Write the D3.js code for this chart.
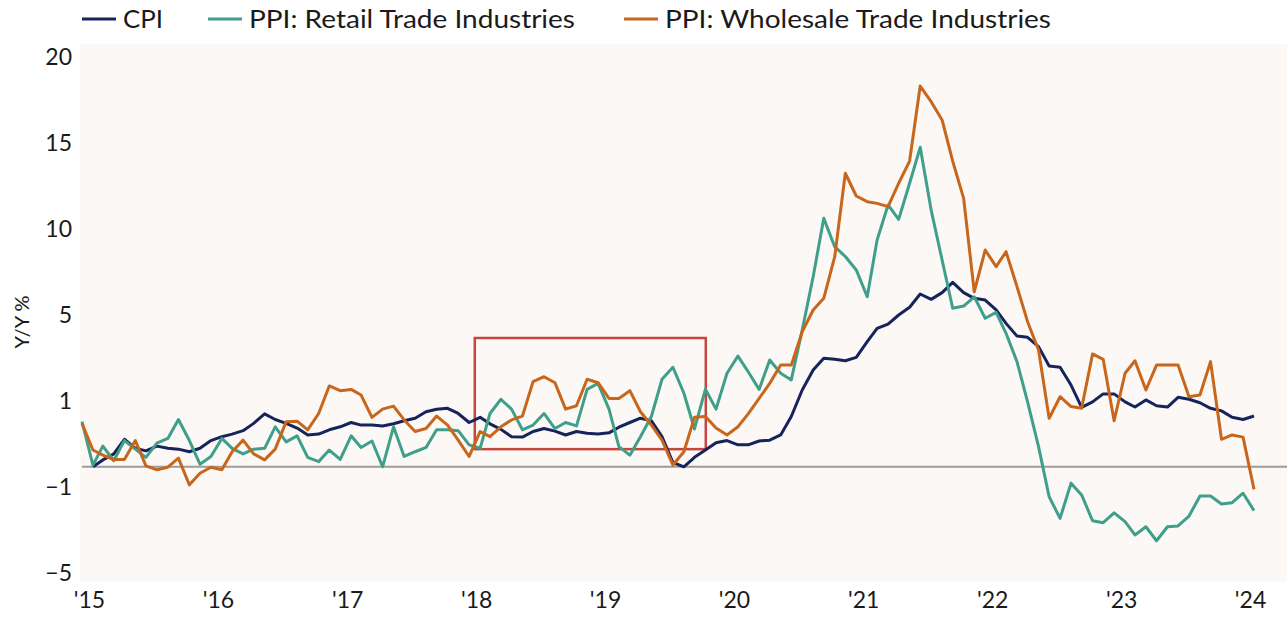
<!DOCTYPE html>
<html>
<head>
<meta charset="utf-8">
<script src="https://cdn.jsdelivr.net/npm/d3@7"></script>
<style>
  html, body { margin: 0; padding: 0; background: #ffffff; }
  svg { display: block; font-family: Lato, "Open Sans", sans-serif; }
</style>
</head>
<body>
<svg id="chart" width="1287" height="622"></svg>
<script>
// monthly observations, Jan 2015 .. Feb 2024
const months = d3.timeMonth.range(new Date(2015, 0, 1), new Date(2024, 2, 1));

const cpi = [
  null, -0.53, -0.37, -0.23, 0.11, -0.10, -0.16, -0.05, -0.10, -0.12, -0.18, -0.10,
  0.08, 0.17, 0.23, 0.31, 0.48, 0.70, 0.57, 0.48, 0.37, 0.21, 0.23, 0.33,
  0.40, 0.50, 0.44, 0.44, 0.42, 0.47, 0.54, 0.60, 0.75, 0.81, 0.83, 0.71,
  0.50, 0.62, 0.47, 0.34, 0.17, 0.16, 0.29, 0.36, 0.30, 0.21, 0.29, 0.25,
  0.23, 0.26, 0.39, 0.50, 0.60, 0.54, 0.17, -0.43, -0.53, -0.31, -0.14, 0.03,
  0.08, -0.02, -0.02, 0.07, 0.09, 0.21, 0.64, 1.51, 2.44, 2.99, 2.94, 2.87,
  3.03, 3.76, 4.38, 4.58, 5.00, 5.45, 6.22, 5.91, 6.30, 6.90, 6.30, 5.97,
  5.87, 5.30, 4.61, 4.02, 3.96, 3.53, 2.63, 2.57, 1.74, 0.85, 0.98, 1.33,
  1.33, 0.98, 0.86, 1.05, 0.89, 0.86, 1.17, 1.08, 0.96, 0.83, 0.77, 0.62,
  0.57, 0.65
];

const ppiRetail = [
  0.52, -0.49, -0.05, -0.39, 0.08, -0.12, -0.31, 0.02, 0.13, 0.57, 0.08, -0.47,
  -0.29, 0.13, -0.10, -0.23, -0.12, -0.10, 0.40, 0.05, 0.19, -0.31, -0.41, -0.14,
  -0.36, 0.19, -0.08, 0.07, -0.53, 0.40, -0.29, -0.18, -0.08, 0.33, 0.33, 0.31,
  -0.02, -0.10, 0.71, 1.08, 0.81, 0.33, 0.44, 0.71, 0.36, 0.50, 0.42, 1.54,
  1.82, 0.81, -0.06, -0.26, 0.17, 0.64, 2.01, 2.57, 1.36, 0.35, 1.55, 0.81,
  2.29, 3.09, 2.36, 1.54, 2.91, 2.29, 1.98, 4.30, 7.23, 10.62, 8.97, 8.40,
  7.62, 6.06, 9.36, 11.40, 10.56, 12.66, 14.75, 11.10, 8.20, 5.39, 5.52, 6.06,
  4.85, 5.15, 4.15, 2.83, 0.98, -0.06, -1.45, -2.46, -0.91, -1.37, -2.57, -2.66,
  -2.20, -2.61, -3.23, -2.85, -3.50, -2.85, -2.81, -2.35, -1.42, -1.42, -1.79, -1.73,
  -1.29, -2.10
];

const ppiWholesale = [
  0.48, -0.14, -0.26, -0.36, -0.36, 0.08, -0.51, -0.60, -0.54, -0.33, -0.95, -0.68,
  -0.54, -0.60, -0.18, 0.09, -0.23, -0.37, -0.12, 0.52, 0.53, 0.33, 0.71, 1.70,
  1.48, 1.54, 1.28, 0.62, 0.81, 0.88, 0.56, 0.29, 0.36, 0.65, 0.44, 0.09,
  -0.29, 0.29, 0.17, 0.40, 0.56, 0.65, 1.90, 2.13, 1.85, 0.81, 0.89, 2.01,
  1.85, 1.12, 1.12, 1.48, 0.75, 0.44, 0.09, -0.49, -0.18, 0.62, 0.64, 0.37,
  0.21, 0.40, 0.70, 1.12, 1.82, 2.67, 2.67, 4.22, 5.29, 5.97, 8.39, 13.24,
  11.92, 11.59, 11.49, 11.30, 12.66, 13.95, 18.31, 17.40, 16.34, 13.95, 11.78, 6.35,
  8.78, 7.81, 8.68, 6.65, 4.69, 3.37, 0.60, 1.20, 0.87, 0.83, 3.19, 2.94,
  0.54, 2.29, 2.87, 1.51, 2.67, 2.67, 2.67, 1.20, 1.28, 2.83, 0.11, 0.21,
  0.16, -1.11
];

const seriesNames = ["CPI", "PPI: Retail Trade Industries", "PPI: Wholesale Trade Industries"];
const seriesColors = ["#15245b", "#3f9f8b", "#c8661c"];

const yTicks = [20, 15, 10, 5, 1, -1, -5];
const yearTicks = [2015, 2016, 2017, 2018, 2019, 2020, 2021, 2022, 2023, 2024];

const zeroLine = -0.53;
const boxDates = [new Date(2018, 0, 17), new Date(2019, 10, 2)];
const boxValues = [3.93, -0.12];

const svg = d3.select("#chart");
const width = 1287;
const height = 622;

const x = d3.scaleTime()
  .domain([months[0], months[months.length - 1]])
  .range([82, 1254]);

// the published axis is not linear: equal spacing between labels
const y = d3.scaleLinear()
  .domain([-5, -1, 1, 5, 10, 15, 20])
  .range([573, 487, 401, 315, 229, 143, 57]);

// plot background
svg.append("rect")
  .attr("x", 80)
  .attr("y", 44)
  .attr("width", width - 80)
  .attr("height", 538)
  .attr("fill", "#fbf8f6");

// y axis labels
const yAxis = d3.axisLeft(y)
  .tickValues(yTicks)
  .tickFormat(d3.format("d"))
  .tickSize(0)
  .tickPadding(0);

svg.append("g")
  .attr("transform", "translate(72,0)")
  .call(yAxis)
  .call(g => g.select(".domain").remove())
  .call(g => g.selectAll("text")
    .attr("font-size", 23)
    .attr("fill", "#1a1a1a")
    .attr("font-family", "Lato, sans-serif"));

svg.append("text")
  .attr("transform", "translate(29,322) rotate(-90)")
  .attr("text-anchor", "middle")
  .attr("font-size", 20)
  .attr("fill", "#1a1a1a")
  .text("Y/Y %");

// x axis labels
const xAxis = d3.axisBottom(x)
  .tickValues(yearTicks.map(yr => new Date(yr, 0, 1)))
  .tickFormat(d => "'" + d3.timeFormat("%y")(d))
  .tickSize(0)
  .tickPadding(0);

svg.append("g")
  .attr("transform", "translate(7,592)")
  .call(xAxis)
  .call(g => g.select(".domain").remove())
  .call(g => g.selectAll("text")
    .attr("font-size", 23)
    .attr("fill", "#1a1a1a")
    .attr("font-family", "Lato, sans-serif"));

// zero line
svg.append("line")
  .attr("x1", 82)
  .attr("x2", width)
  .attr("y1", y(zeroLine))
  .attr("y2", y(zeroLine))
  .attr("stroke", "#9c9c9c")
  .attr("stroke-width", 2);

// highlight box
svg.append("rect")
  .attr("x", x(boxDates[0]))
  .attr("y", y(boxValues[0]))
  .attr("width", x(boxDates[1]) - x(boxDates[0]))
  .attr("height", y(boxValues[1]) - y(boxValues[0]))
  .attr("fill", "none")
  .attr("stroke", "#c4463c")
  .attr("stroke-width", 2.5);

const line = d3.line()
  .defined(d => d != null)
  .x((d, i) => x(months[i]))
  .y(d => y(d));

[cpi, ppiRetail, ppiWholesale].forEach((values, k) => {
  svg.append("path")
    .datum(values)
    .attr("fill", "none")
    .attr("stroke", seriesColors[k])
    .attr("stroke-width", 3)
    .attr("stroke-linejoin", "round")
    .attr("d", line);
});

// legend
const legendX = [82, 208, 624];
const legendTextWidth = [40, 326, 386];
const legend = svg.append("g");
seriesNames.forEach((name, k) => {
  const g = legend.append("g").attr("transform", `translate(${legendX[k]},19)`);
  g.append("line")
    .attr("x1", 0).attr("x2", 34)
    .attr("y1", 0).attr("y2", 0)
    .attr("stroke", seriesColors[k])
    .attr("stroke-width", 3);
  g.append("text")
    .attr("x", 41)
    .attr("y", 0)
    .attr("dy", "0.35em")
    .attr("font-size", 25)
    .attr("textLength", legendTextWidth[k])
    .attr("lengthAdjust", "spacingAndGlyphs")
    .attr("fill", "#1a1a1a")
    .text(name);
});
</script>
</body>
</html>
